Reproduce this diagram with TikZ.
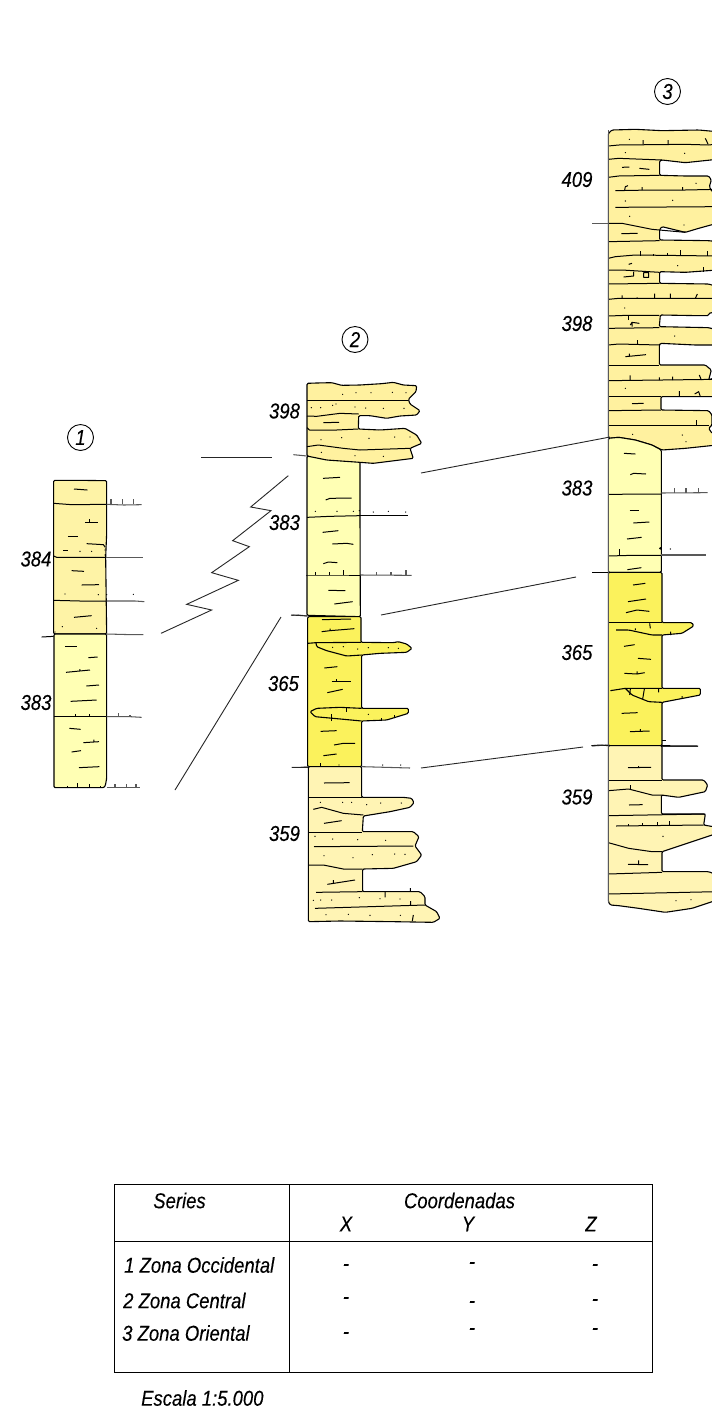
\documentclass[tikz,border=0pt]{standalone}
\usepackage{fontspec}
\setmainfont{Liberation Sans}[FakeStretch=0.86,ItalicFeatures={FakeBold=0.15}]
\definecolor{sandc}{HTML}{FFF19F}
\definecolor{paleo}{HTML}{FFF4B4}
\definecolor{palec}{HTML}{FFFFB4}
\definecolor{brightc}{HTML}{FBF25C}
\definecolor{sand1}{HTML}{FEF3A6}
\tikzset{
  unit/.style={draw=black,line width=1.1pt,line join=round,rounded corners=1.2pt},
  ln/.style={line width=1pt,line join=round},
  gln/.style={line width=1.05pt,black!65},
  corr/.style={line width=0.9pt,black!85},
  lab/.style={font=\fontsize{21.5}{25}\selectfont\itshape,inner sep=0pt},
  circ/.style={circle,draw,line width=0.9pt,minimum size=26pt,inner sep=0pt,font=\fontsize{21.5}{25}\selectfont\itshape},
  zoomed/.style={x=0.33333pt,y=-0.33333pt}
}
\newcommand{\dts}[1]{\foreach \p in {#1} \fill \p circle[radius=2];}
\begin{document}
\begin{tikzpicture}[x=1pt,y=-1pt]
\path[clip] (0,0) rectangle (712,1414);
\fill[white] (0,0) rectangle (712,1414);

% ---------- column 1 ----------
\begin{scope}[shift={(0,420)},zoomed]
\path[unit,fill=sand1] (161,181) -- (235,181) -- (320,182) -- (320,340) -- (317,412) -- (320,642) -- (161,642) -- cycle;
\path[unit,fill=palec] (162,642) -- (320,642) -- (320,1075) -- (316,1097) -- (312,1103) -- (162,1103) -- cycle;
\draw[ln] (161,250) -- (215,254) -- (320,253);
\draw[ln] (161,408) -- (170,412) -- (317,412);
\draw[ln] (161,541) -- (240,543) -- (320,543);
\draw[ln] (162,890) -- (320,890);
\draw[gln] (320,253) -- (372,255) -- (425,254);
\draw[gln] (333,253) -- +(0,-15) (368,253) -- +(0,-15) (400,253) -- +(0,-15);
\draw[gln] (317,413) -- (428,413);
\draw[gln] (320,543) -- (405,543) -- (433,545);
\draw[gln] (320,642) -- (395,644) -- (430,644);
\draw[gln] (320,890) -- (390,890) -- (425,892);
\draw[gln] (356,890) -- +(0,-12) (390,890) -- +(0,-4);
\draw[gln] (320,1103) -- (420,1103);
\draw[gln] (345,1103) -- +(0,-11) (380,1103) -- +(0,-11) (408,1103) -- +(0,-11);
\draw[ln] (125,651) -- (161,649);
\draw[ln] (222,207) -- (262,210);
\draw[ln] (255,306) -- (293,306) (268,306) -- +(0,-8);
\draw[ln] (204,350) -- (235,350);
\draw[ln] (260,371) -- (310,374) -- (316,382);
\draw[ln] (190,391) -- (203,391);
\draw[ln] (215,452) -- (252,454);
\draw[ln] (245,495) -- (297,494);
\draw[ln] (222,592) -- (275,587);
\draw[ln] (195,678) -- (230,678);
\draw[ln] (265,713) -- (293,711);
\draw[ln] (198,757) -- (270,750) (240,752) -- +(0,-5);
\draw[ln] (259,798) -- (297,795);
\draw[ln] (212,844) -- (290,840);
\draw[ln] (208,925) -- (242,928);
\draw[ln] (250,968) -- (297,965) (282,966) -- +(0,-7);
\draw[ln] (215,996) -- (243,992);
\draw[ln] (237,1043) -- (298,1040);
\draw[ln] (228,890) -- +(0,-8) (268,890) -- +(0,-8);
\draw[ln] (203,1103) -- +(0,-5) (232,1103) -- +(0,-13) (268,1103) -- +(0,-11) (302,1103) -- +(0,-5);
\dts{(240,394),(275,394),(315,390),(315,405),(195,522),(295,524),(320,524),(400,523),(187,620),(290,625),(165,636)}
\end{scope}

% ---------- column 2, upper ----------
\begin{scope}[shift={(260,320)},zoomed]
\path[unit,fill=palec] (141,408) -- (300,425) -- (300,580) -- (301,890) -- (141,886) -- cycle;
\path[unit,fill=sandc] (141,190) -- (170,189) -- (215,188) -- (245,196) -- (300,195) -- (365,191) -- (400,187) -- (430,195) -- (470,197) -- (468,215) -- (445,238) -- (450,252) -- (480,272) -- (470,285) -- (420,288) -- (380,295) -- (330,287) -- (296,287) -- (295,327) -- (360,330) -- (435,325) -- (470,345) -- (485,370) -- (450,385) -- (460,415) -- (420,420) -- (340,430) -- (300,427) -- (200,420) -- (141,408) -- cycle;
\draw[ln] (141,240) -- (445,240);
\draw[ln] (141,288) -- (170,289) -- (240,280) -- (296,282);
\draw[ln] (141,323) -- (148,330) -- (230,330) -- (295,327);
\draw[ln] (141,380) -- (175,375) -- (250,385) -- (300,390) -- (450,385);
\draw[ln] (141,592) -- (210,589) -- (300,587);
\draw[ln] (139,765) -- (235,765) -- (300,765);
\draw[gln] (100,404) -- (141,408);
\draw[gln] (94,886) -- (115,885) -- (141,888);
\draw[ln] (300,587) -- (445,587);
\draw[gln] (301,765) -- (455,766);
\draw[gln] (349,765) -- +(0,-9) (393,765) -- +(0,-8) (438,765) -- +(0,-14);
\draw[ln] (190,308) -- (237,307);
\draw[ln] (189,475) -- (240,472);
\draw[ln] (197,540) -- (210,535) -- (275,534);
\draw[ln] (188,637) -- (235,632);
\draw[ln] (217,672) -- (260,670) -- (280,673);
\draw[ln] (190,731) -- (205,726) -- (232,728);
\draw[ln] (205,811) -- (256,812);
\draw[ln] (223,852) -- (278,845);
\draw[ln] (166,765) -- +(0,-10) (208,765) -- +(0,-8) (250,765) -- +(0,-14);
\dts{(248,223),(288,218),(333,218),(397,217),(438,218),(154,263),(182,263),(218,256),(228,252),(285,261),(317,264),(370,265),(432,265),(183,359),(245,353),(327,355),(404,351),(450,351),(184,397),(285,407),(370,409),(166,574),(231,574),(280,574),(298,572),(340,576),(385,574),(437,576)}
\end{scope}

% ---------- column 2, lower ----------
\begin{scope}[shift={(260,610)},zoomed]
\path[unit,fill=brightc] (143,20) -- (303,20) -- (303,97) -- (400,98) -- (415,95) -- (440,102) -- (456,115) -- (440,127) -- (360,130) -- (305,135) -- (305,295) -- (445,295) -- (445,310) -- (380,330) -- (305,333) -- (305,470) -- (143,470) -- cycle;
\draw[unit] (143,100) -- (168,98) -- (303,97);
\draw[unit] (168,98) -- (170,110) -- (200,122) -- (260,138) -- (305,135);
\draw[unit] (305,295) -- (240,292) -- (170,295) -- (150,305) -- (165,320) -- (220,325) -- (305,333);
\path[unit,fill=paleo] (145,470) -- (305,470) -- (305,562) -- (430,562) -- (455,565) -- (462,578) -- (450,592) -- (390,605) -- (310,618) -- (307,665) -- (460,665) -- (477,680) -- (465,708) -- (485,735) -- (470,755) -- (400,775) -- (308,777) -- (308,845) -- (480,845) -- (495,860) -- (495,885) -- (530,905) -- (540,925) -- (520,937) -- (400,935) -- (240,933) -- (145,935) -- cycle;
\draw[ln] (145,562) -- (305,562);
\draw[ln] (160,598) -- (185,592) -- (250,610) -- (310,615);
\draw[ln] (147,667) -- (307,667);
\draw[ln] (162,710) -- (460,708);
\draw[ln] (147,765) -- (190,765) -- (250,777) -- (308,777);
\draw[ln] (168,847) -- (308,845);
\draw[ln] (165,895) -- (495,885);
\draw[gln] (95,472) -- (120,472) -- (145,470);
\draw[gln] (305,470) -- (450,474);
\draw[ln] (186,29) -- (273,27);
\draw[ln] (185,65) -- (210,62) -- (283,56) (210,62) -- +(0,-6);
\draw[ln] (193,174) -- (232,170);
\draw[ln] (215,213) -- (272,213) (230,213) -- +(0,-7);
\draw[ln] (202,248) -- (248,238);
\draw[ln] (182,364) -- (230,362);
\draw[ln] (222,405) -- (250,400) -- (285,400);
\draw[ln] (190,437) -- (230,432);
\draw[ln] (180,470) -- +(0,-12) (215,333) -- +(0,-20) (260,305) -- +(0,-10) (363,333) -- +(0,-10) (403,325) -- +(0,-10);
\draw[ln] (192,519) -- (269,518);
\draw[ln] (192,640) -- (245,632);
\draw[ln] (202,823) -- (285,810) (220,818) -- +(0,-8);
\draw[ln] (375,845) -- +(0,17) (451,845) -- +(0,-11) (452,887) -- +(0,-14) (457,933) -- (460,915);
\dts{(218,112),(250,110),(293,117),(325,113),(385,113),(325,313),(415,115),(237,465),(368,465),(422,465),(181,577),(248,577),(275,577),(320,584),(362,579),(424,579),(165,679),(218,687),(293,689),(377,691),(192,737),(279,743),(337,734),(404,732),(435,733),(182,870),(215,870),(298,863),(360,866),(420,867),(198,914),(265,913),(330,916),(421,916),(160,871)}
\end{scope}

% ---------- column 3, upper ----------
\begin{scope}[shift={(552,70)},zoomed]
\path[unit,fill=sandc] (169,190) -- (180,180) -- (250,178) -- (330,182) -- (440,180) -- (495,185) -- (495,268) -- (400,278) -- (330,270) -- (323,272) -- (323,316) -- (400,318) -- (470,318) -- (478,330) -- (472,350) -- (480,365) -- (495,365) -- (495,460) -- (440,475) -- (400,487) -- (330,470) -- (323,478) -- (323,510) -- (470,512) -- (495,515) -- (495,600) -- (400,607) -- (323,605) -- (323,640) -- (470,642) -- (495,650) -- (495,725) -- (470,730) -- (470,737) -- (440,737) -- (325,735) -- (322,770) -- (470,773) -- (495,780) -- (495,825) -- (430,825) -- (325,820) -- (322,825) -- (322,885) -- (460,885) -- (478,900) -- (470,930) -- (495,920) -- (495,980) -- (327,980) -- (327,1020) -- (470,1022) -- (480,1035) -- (480,1065) -- (470,1075) -- (480,1090) -- (495,1090) -- (495,1125) -- (400,1135) -- (330,1140) -- (300,1125) -- (250,1110) -- (200,1102) -- (169,1105) -- cycle;
\draw[ln] (169,228) -- (200,225) -- (400,223) -- (470,225) -- (495,222);
\draw[ln] (169,268) -- (200,265) -- (330,270);
\draw[ln] (169,322) -- (200,318) -- (323,316);
\draw[ln] (190,362) -- (300,360) -- (400,360) -- (495,358);
\draw[ln] (190,412) -- (495,410);
\draw[ln] (169,460) -- (210,460) -- (300,478) -- (400,487);
\draw[ln] (169,515) -- (323,512);
\draw[ln] (169,565) -- (190,560) -- (250,555) -- (495,558);
\draw[ln] (169,600) -- (210,600) -- (323,607);
\draw[ln] (169,642) -- (323,640);
\draw[ln] (169,688) -- (200,685) -- (495,685);
\draw[ln] (169,738) -- (225,736) -- (322,736);
\draw[ln] (169,775) -- (322,773);
\draw[ln] (169,825) -- (200,822) -- (322,825);
\draw[ln] (169,885) -- (322,885);
\draw[ln] (169,932) -- (495,928);
\draw[ln] (169,980) -- (327,980);
\draw[ln] (169,1022) -- (327,1020);
\draw[ln] (169,1065) -- (470,1065);
\draw[gln] (120,461) -- (169,461);
\draw[gln] (169,180) -- (169,1105);
\draw[ln] (210,292) -- (232,291) (262,295) -- (292,298);
\draw[ln] (208,491) -- (257,490);
\draw[ln] (273,224) -- +(0,-14) (348,224) -- +(0,-14) (460,205) -- (468,222);
\draw[ln] (218,360) -- (220,350) -- (228,347) (270,360) -- +(0,-9) (392,360) -- +(0,-9);
\draw[ln] (264,557) -- +(0,-13) (303,557) -- +(0,-6) (347,557) -- +(0,-7) (385,557) -- +(0,-16) (467,557) -- +(0,-14);
\draw[ln] (230,583) -- (240,580);
\draw[ln] (453,605) -- +(0,-15);
\draw[ln] (215,621) -- (245,618) -- (245,605) (275,608) rectangle (290,622);
\draw[ln] (210,685) -- +(0,-9) (255,685) -- +(0,-3) (308,685) -- +(0,-14) (355,685) -- +(0,-14) (430,685) -- (436,672);
\draw[ln] (228,750) -- +(0,-12);
\dts{(232,208),(220,248),(398,250),(432,340),(220,393),(362,391),(233,439),(396,465),(377,587),(218,714)}
\end{scope}

% ---------- column 3, middle ----------
\begin{scope}[shift={(552,300)},zoomed]
\path[unit,fill=palec] (169,415) -- (200,412) -- (250,420) -- (300,435) -- (328,450) -- (328,817) -- (169,817) -- cycle;
\draw[ln] (169,583) -- (328,582);
\draw[ln] (169,768) -- (240,766) -- (328,766);
\draw[gln] (328,579) -- (467,578);
\draw[gln] (368,579) -- +(0,-14) (402,579) -- +(0,-14) (440,579) -- +(0,-14);
\draw[gln] (328,765) -- (462,765);
\draw[ln] (120,817) -- (169,817);
\draw[gln] (169,415) -- (169,817);
\draw[ln] (235,75) -- (240,67) -- (262,70) (240,80) -- +(0,-12);
\draw[ln] (220,170) -- (282,164) (232,170) -- +(0,-9);
\draw[ln] (257,132) -- +(0,-12);
\draw[ln] (234,240) -- +(0,-14) (322,240) -- +(0,-8) (362,240) -- +(0,-10) (442,225) -- (448,240);
\draw[ln] (382,290) -- +(0,-17) (428,282) -- (440,275) -- (445,290);
\draw[ln] (432,375) -- +(0,-14);
\draw[ln] (240,311) -- (275,310);
\draw[ln] (216,460) -- (250,462);
\draw[ln] (235,524) -- (245,520) -- (282,522);
\draw[ln] (233,630) -- (261,630);
\draw[ln] (244,669) -- (292,666);
\draw[ln] (225,717) -- (269,712);
\draw[ln] (226,809) -- (268,803);
\draw[ln] (201,766) -- +(0,-18);
\dts{(368,108),(220,265),(242,403),(391,405),(402,425),(355,747)}
\fill (325,745) circle[radius=4];
\end{scope}

% ---------- column 3, lower ----------
\begin{scope}[shift={(552,570)},zoomed]
\path[unit,fill=brightc] (169,7) -- (330,7) -- (330,158) -- (420,158) -- (425,168) -- (390,190) -- (330,195) -- (330,355) -- (445,355) -- (445,375) -- (330,397) -- (330,527) -- (169,527) -- cycle;
\draw[unit] (169,158) -- (330,158);
\draw[unit] (192,180) -- (230,180) -- (300,195) -- (330,195);
\draw[unit] (175,362) -- (220,355) -- (330,355);
\draw[unit] (220,355) -- (240,375) -- (290,395) -- (330,397);
\path[unit,fill=paleo] (169,527) -- (330,527) -- (330,630) -- (455,630) -- (467,645) -- (460,665) -- (380,682) -- (328,675) -- (328,732) -- (460,732) -- (455,765) -- (495,772) -- (495,790) -- (420,815) -- (330,845) -- (330,905) -- (470,905) -- (495,915) -- (495,990) -- (420,1015) -- (340,1027) -- (260,1015) -- (200,1007) -- (175,1005) -- (169,995) -- cycle;
\draw[ln] (169,630) -- (330,630);
\draw[ln] (169,662) -- (230,657) -- (300,675) -- (330,675);
\draw[ln] (169,737) -- (460,732);
\draw[ln] (192,768) -- (455,765);
\draw[ln] (169,818) -- (230,835) -- (300,845) -- (330,845);
\draw[ln] (169,912) -- (330,907);
\draw[ln] (169,972) -- (495,965);
\draw[gln] (169,7) -- (169,995);
\draw[ln] (118,527) -- (145,525) -- (169,527);
\draw[ln] (330,527) -- (438,528);
\draw[ln] (243,45) -- (280,40);
\draw[ln] (228,95) -- (282,87);
\draw[ln] (222,128) -- (255,120) -- (292,124);
\draw[ln] (216,229) -- (248,224);
\draw[ln] (258,265) -- (297,268);
\draw[ln] (217,310) -- (255,312) -- (278,308) (255,312) -- +(0,-8);
\draw[ln] (209,430) -- (257,428);
\draw[ln] (234,485) -- (293,483) (265,485) -- +(0,-8);
\draw[ln] (228,593) -- (297,592) (260,593) -- +(0,-5);
\draw[ln] (231,705) -- (272,704);
\draw[ln] (228,883) -- (288,884) (260,884) -- +(0,-13);
\draw[ln] (293,160) -- (295,175) (250,180) -- +(0,-5) (356,195) -- +(0,-10);
\draw[ln] (233,375) -- (235,357) (272,387) -- (277,357) (320,355) -- +(0,12) (390,385) -- +(0,-7);
\draw[ln] (235,660) -- +(0,-15);
\draw[ln] (228,768) -- +(0,-7) (270,767) -- +(0,-7) (316,767) -- +(0,-11) (351,766) -- +(0,-12);
\draw[ln] (330,511) -- (342,511);
\dts{(333,799),(372,992),(417,989)}
\end{scope}

% ---------- correlation lines ----------
\coordinate (a1) at (201,457); \coordinate (a2) at (272,457);
\coordinate (b1) at (421,473); \coordinate (b2) at (610,437);
\coordinate (c1) at (381,615); \coordinate (c2) at (576,577);
\coordinate (d1) at (421,768); \coordinate (d2) at (583,747);
\coordinate (e1) at (175,790); \coordinate (e2) at (281,617);
\coordinate (f1) at (291,615); \coordinate (f2) at (308,616);
\coordinate (g1) at (292,767); \coordinate (g2) at (308,767);
\draw[corr] (a1) -- (a2);
\draw[corr] (b1) -- (b2);
\draw[corr] (c1) -- (c2);
\draw[corr] (d1) -- (d2);
\draw[corr] (e1) -- (e2);
\draw[corr] (f1) -- (f2);
\draw[corr] (g1) -- (g2);
\draw[corr] (592,746) -- (608,745);
\draw[corr] (662,746) -- (698,746);
\begin{scope}[shift={(0,420)},zoomed]
\draw[corr] (483,640) -- (635,570) -- (560,553) -- (715,481) -- (635,458) -- (748,380) -- (698,362) -- (813,272) -- (752,261) -- (865,167);
\end{scope}

% ---------- labels ----------
\node[circ] (c1n) at (80.5,437.5) {1};
\node[circ] (c2n) at (355,339.5) {2};
\node[circ] (c3n) at (667.5,91.5) {3};
\node[lab] (l384) at (36,559) {384};
\node[lab] (l383a) at (36,702.5) {383};
\node[lab] (l398b) at (284.5,411) {398};
\node[lab] (l383b) at (284.5,522.5) {383};
\node[lab] (l365b) at (283.5,683.5) {365};
\node[lab] (l359b) at (284.5,833.5) {359};
\node[lab] (l409) at (577,179.5) {409};
\node[lab] (l398c) at (577,323.5) {398};
\node[lab] (l383c) at (577,488) {383};
\node[lab] (l365c) at (577,652.5) {365};
\node[lab] (l359c) at (577,797) {359};

% ---------- table ----------
\draw[line width=1pt] (114,1184) rectangle (652,1372);
\draw[line width=1pt] (289.5,1184) -- (289.5,1372);
\draw[line width=1pt] (114,1241) -- (652,1241);
\node[lab] (hs) at (179.5,1200.5) {Series};
\node[lab] (hc) at (459.5,1200.5) {Coordenadas};
\node[lab] (hx) at (346,1224) {X};
\node[lab] (hy) at (468,1224) {Y};
\node[lab] (hz) at (591,1224) {Z};
\node[lab,anchor=west] (r1) at (124,1265) {1 Zona Occidental};
\node[lab,anchor=west] (r2) at (123,1300.5) {2 Zona Central};
\node[lab,anchor=west] (r3) at (122,1333) {3 Zona Oriental};
\foreach \n/\x/\y in {a/346/1267.5,b/472/1265.5,c/595/1267.5,d/346/1300.5,e/472/1304.5,f/595/1302.5,g/346/1335.5,h/472/1331.5,i/595/1331.5}
  \node[lab] (dash\n) at (\x,\y) {-};
\node[lab,anchor=west] (esc) at (141,1398) {Escala 1:5.000};
\end{tikzpicture}
\end{document}
